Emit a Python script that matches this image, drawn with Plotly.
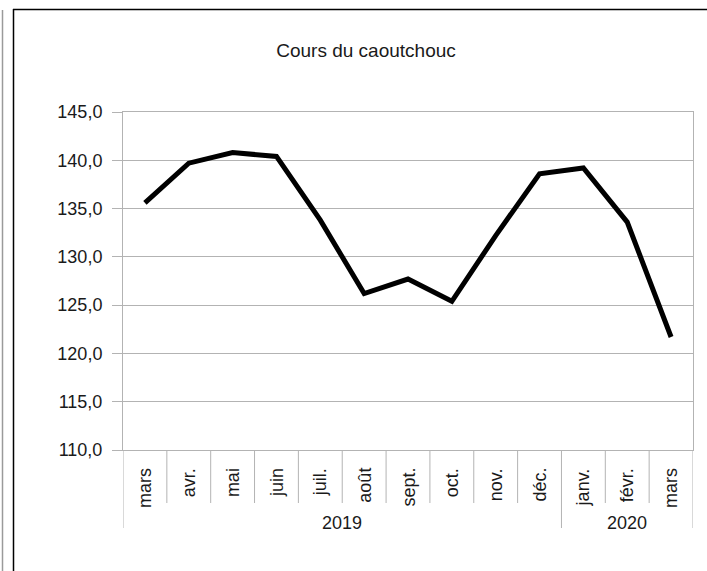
import plotly.graph_objects as go

months = ["mars", "avr.", "mai", "juin", "juil.", "août", "sept.", "oct.", "nov.", "déc.", "janv.", "févr.", "mars"]
years = ["2019", "2020"]
year_counts = [10, 3]
values = [135.6, 139.7, 140.8, 140.4, 133.8, 126.2, 127.7, 125.4, 132.2, 138.6, 139.2, 133.6, 121.7]
title = "Cours du caoutchouc"

W, H = 707, 571
L, R, T, B = 123, 693, 112, 450
pw, ph = R - L, B - T

def px_x(p):
    return (p - L) / pw

def px_y(p):
    return (B - p) / ph

FONT = "Liberation Sans, Arial, sans-serif"
GRID = "#b3b3b3"
TXT = "#1a1a1a"
FS = 18

xs = list(range(len(months)))
fig = go.Figure()
fig.add_trace(go.Scatter(x=xs, y=values, mode="lines",
                         line=dict(color="#000000", width=5), hoverinfo="skip"))

shapes = []
annotations = []
bounds = [i - 0.5 for i in range(len(months) + 1)]
year_bounds = [-0.5]
acc = -0.5
for c in year_counts:
    acc += c
    year_bounds.append(acc)
for b in bounds:
    long = any(abs(b - yb) < 1e-9 for yb in year_bounds)
    shapes.append(dict(type="line", xref="x", yref="paper", x0=b, x1=b,
                       y0=0, y1=px_y(528 if long else 503),
                       line=dict(color=GRID, width=1)))
for i, m in enumerate(months):
    annotations.append(dict(x=i, y=px_y(466), xref="x", yref="paper", text=m,
                            textangle=-90, showarrow=False, xanchor="center",
                            yanchor="top", font=dict(family=FONT, size=FS, color=TXT)))
start = -0.5
for yname, c in zip(years, year_counts):
    annotations.append(dict(x=start + c / 2, y=px_y(523), xref="x", yref="paper",
                            text=yname, showarrow=False, xanchor="center", yanchor="middle",
                            font=dict(family=FONT, size=FS, color=TXT)))
    start += c

# outer frame
shapes.append(dict(type="line", xref="paper", yref="paper", x0=px_x(13.5), x1=px_x(13.5),
                   y0=px_y(9), y1=px_y(571), line=dict(color="#000000", width=1.5)))
shapes.append(dict(type="line", xref="paper", yref="paper", x0=px_x(2.5), x1=px_x(2.5),
                   y0=px_y(10), y1=px_y(571), line=dict(color="#9a9a9a", width=1.5)))
shapes.append(dict(type="line", xref="paper", yref="paper", x0=px_x(13), x1=px_x(707),
                   y0=px_y(9.5), y1=px_y(9.5), line=dict(color="#000000", width=1.5)))

fig.update_layout(
    width=W, height=H,
    margin=dict(l=L, r=W - R, t=T, b=H - B, pad=0),
    paper_bgcolor="white", plot_bgcolor="white",
    separators=", ",
    showlegend=False,
    title=dict(text=title, x=366 / W, xref="container", xanchor="center",
               y=1 - 50 / H, yref="container", yanchor="middle",
               font=dict(family=FONT, size=19, color=TXT)),
    xaxis=dict(range=[-0.5, len(months) - 0.5], showticklabels=False, showgrid=False,
               zeroline=False, ticks="", showline=True, linecolor=GRID, linewidth=1,
               mirror=True, fixedrange=True),
    yaxis=dict(range=[110, 145], dtick=5, tick0=110, tickformat=".1f", showgrid=True,
               gridcolor=GRID, gridwidth=1, zeroline=False, ticks="outside", ticklen=10,
               tickcolor=GRID, showline=True, linecolor=GRID, linewidth=1, mirror=True,
               ticklabelstandoff=6,
               tickfont=dict(family=FONT, size=FS, color=TXT)),
    shapes=shapes, annotations=annotations,
)
fig.write_html("out.html", config={"displayModeBar": False},
               post_script="document.body.style.margin='0';")
